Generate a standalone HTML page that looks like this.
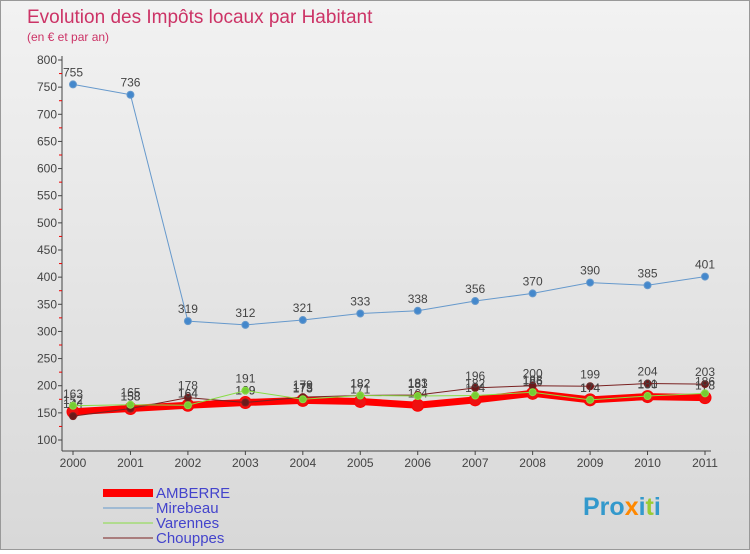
<!DOCTYPE html>
<html><head><meta charset="utf-8"><style>
body{margin:0;width:750px;height:550px;overflow:hidden;font-family:"Liberation Sans",sans-serif}
#c{position:absolute;left:0;top:0;width:748px;height:548px;border:1px solid #999;background:linear-gradient(#f2f2f2,#d8d8d8)}
</style></head><body>
<div id="c">
<svg id="s" width="748" height="548" xmlns="http://www.w3.org/2000/svg" font-family="Liberation Sans, sans-serif"></svg>
</div>
<script>
const years=["2000","2001","2002","2003","2004","2005","2006","2007","2008","2009","2010","2011"];
const yTicks=[100,150,200,250,300,350,400,450,500,550,600,650,700,750,800];
const amberre=[152,158,164,169,173,171,164,174,186,174,180,178];
const mirebeau=[755,736,319,312,321,333,338,356,370,390,385,401];
const varennes=[163,165,164,191,175,182,181,182,188,174,181,186];
const chouppes=[144,158,178,169,179,182,183,196,200,199,204,203];
const NS="http://www.w3.org/2000/svg",s=document.getElementById('s');
const X=i=>72+i*(632/11), Y=v=>439-(v-100)*(380/700);
function el(t,a,p){const e=document.createElementNS(NS,t);for(const k in a)e.setAttribute(k,a[k]);(p||s).appendChild(e);return e;}
let t=el('text',{x:26,y:22,'font-size':19,fill:'#cc3366','font-weight':'300'});t.textContent='Evolution des Impôts locaux par Habitant';

t=el('text',{x:26,y:40,'font-size':12,fill:'#cc3366'});t.textContent='(en € et par an)';

el('line',{x1:61,y1:55,x2:61,y2:450,stroke:'#444'});
el('line',{x1:61,y1:450,x2:710,y2:450,stroke:'#444'});
yTicks.forEach(v=>{el('line',{x1:57,y1:Y(v),x2:61,y2:Y(v),stroke:'#444'});
 const tt=el('text',{x:56,y:Y(v)+4,'font-size':12,fill:'#444','text-anchor':'end'});tt.textContent=v;
 
 if(v<800)el('line',{x1:58,y1:Y(v+25),x2:61,y2:Y(v+25),stroke:'#e00'});});
years.forEach((y,i)=>{el('line',{x1:X(i),y1:450,x2:X(i),y2:454,stroke:'#444'});
 const tt=el('text',{x:X(i),y:466,'font-size':12,fill:'#444','text-anchor':'middle'});tt.textContent=y;
 });
function series(d,name,color,w,r,fill,lab){
 const g=el('g',{});
 el('polyline',{points:d.map((v,i)=>X(i)+','+Y(v)).join(' '),fill:'none',stroke:color,'stroke-width':w},g);
 d.forEach((v,i)=>{const c=el('circle',{cx:X(i),cy:Y(v),r:r,fill:fill,stroke:color,'stroke-width':1},g);
  
  if(lab){const tt=el('text',{x:X(i),y:Y(v)-8,'font-size':12,fill:'#444','text-anchor':'middle'},g);tt.textContent=v;}});
}
series(amberre,'amberre','#ff0000',7,6,'#ee1111',true);
series(chouppes,'chouppes','#7a2222',1,3.5,'#6b1a1a',true);
series(varennes,'varennes','#88dd44',1,3.5,'#77cc33',true);
series(mirebeau,'mirebeau','#6699cc',1,3.5,'#4488cc',true);
const leg=[['AMBERRE','#ff0000',8],['Mirebeau','#6699cc',1],['Varennes','#88dd44',1],['Chouppes','#7a2222',1]];
leg.forEach((l,i)=>{const y=492+i*15;const g=el('g',{});
 el('line',{x1:102,y1:y,x2:152,y2:y,stroke:l[1],'stroke-width':l[2]},g);
 const tt=el('text',{x:155,y:y+5,'font-size':15,fill:'#4444cc'},g);tt.textContent=l[0];});
t=el('text',{x:582,y:514,'font-size':25,'font-weight':'bold'});

[['Pro','#3399cc'],['x','#ff8800'],['i','#3399cc'],['t','#99cc33'],['i','#3399cc']].forEach(p=>{const ts=el('tspan',{fill:p[1]},t);ts.textContent=p[0];});
</script></body></html>
